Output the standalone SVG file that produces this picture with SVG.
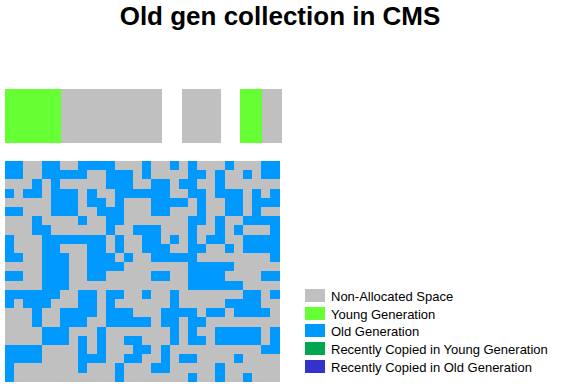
<svg xmlns="http://www.w3.org/2000/svg" width="561" height="389" viewBox="0 0 561 389">
<style>
.t{font-family:"Liberation Sans",Arial,sans-serif;font-weight:bold;font-size:26px;fill:#000}
.l{font-family:"Liberation Sans",Arial,sans-serif;font-size:13px;fill:#000}
.na{fill:#C0C0C0}
.yg{fill:#66FF33}
.og{fill:#0099FF}
.ry{fill:#00A650}
.ro{fill:#3333CC}
#grid rect{shape-rendering:crispEdges}
</style>
<rect width="561" height="389" fill="#fff"/>
<text class="t" x="280" y="25" text-anchor="middle">Old gen collection in CMS</text>
<g id="heap-bar">
<rect class="yg" x="5" y="89" width="56" height="54"/>
<rect class="na" x="61" y="89" width="101" height="54"/>
<rect class="na" x="182" y="89" width="39" height="54"/>
<rect class="yg" x="240" y="89" width="22" height="54"/>
<rect class="na" x="262" y="89" width="20" height="54"/>
</g>
<g id="grid">
<rect class="na" x="5" y="161" width="274.5" height="220.8"/>
<g class="og" transform="translate(5,161) scale(9.15,9.2)">
<rect x="0" y="0" width="2" height="1"/><rect x="4" y="0" width="2" height="1"/><rect x="8" y="0" width="4" height="1"/><rect x="15" y="0" width="1" height="1"/><rect x="18" y="0" width="1" height="1"/><rect x="20" y="0" width="1" height="1"/><rect x="24" y="0" width="1" height="1"/><rect x="28" y="0" width="2" height="1"/>
<rect x="0" y="1" width="2" height="1"/><rect x="4" y="1" width="5" height="1"/><rect x="11" y="1" width="3" height="1"/><rect x="15" y="1" width="1" height="1"/><rect x="20" y="1" width="2" height="1"/><rect x="23" y="1" width="1" height="1"/><rect x="26" y="1" width="1" height="1"/><rect x="28" y="1" width="2" height="1"/>
<rect x="3" y="2" width="1" height="1"/><rect x="5" y="2" width="1" height="1"/><rect x="11" y="2" width="3" height="1"/><rect x="16" y="2" width="2" height="1"/><rect x="19" y="2" width="2" height="1"/><rect x="23" y="2" width="1" height="1"/>
<rect x="0" y="3" width="1" height="1"/><rect x="2" y="3" width="2" height="1"/><rect x="5" y="3" width="3" height="1"/><rect x="9" y="3" width="1" height="1"/><rect x="12" y="3" width="6" height="1"/><rect x="20" y="3" width="2" height="1"/><rect x="23" y="3" width="3" height="1"/><rect x="27" y="3" width="1" height="1"/><rect x="29" y="3" width="1" height="1"/>
<rect x="5" y="4" width="3" height="1"/><rect x="9" y="4" width="2" height="1"/><rect x="12" y="4" width="1" height="1"/><rect x="16" y="4" width="4" height="1"/><rect x="21" y="4" width="1" height="1"/><rect x="24" y="4" width="2" height="1"/><rect x="27" y="4" width="3" height="1"/>
<rect x="0" y="5" width="2" height="1"/><rect x="5" y="5" width="3" height="1"/><rect x="10" y="5" width="3" height="1"/><rect x="16" y="5" width="2" height="1"/><rect x="21" y="5" width="1" height="1"/><rect x="24" y="5" width="2" height="1"/><rect x="27" y="5" width="1" height="1"/>
<rect x="3" y="6" width="1" height="1"/><rect x="8" y="6" width="1" height="1"/><rect x="11" y="6" width="2" height="1"/><rect x="20" y="6" width="2" height="1"/><rect x="23" y="6" width="1" height="1"/><rect x="26" y="6" width="4" height="1"/>
<rect x="3" y="7" width="2" height="1"/><rect x="11" y="7" width="1" height="1"/><rect x="14" y="7" width="3" height="1"/><rect x="20" y="7" width="1" height="1"/><rect x="23" y="7" width="1" height="1"/><rect x="25" y="7" width="1" height="1"/><rect x="29" y="7" width="1" height="1"/>
<rect x="0" y="8" width="1" height="1"/><rect x="4" y="8" width="7" height="1"/><rect x="12" y="8" width="1" height="1"/><rect x="15" y="8" width="2" height="1"/><rect x="18" y="8" width="1" height="1"/><rect x="20" y="8" width="1" height="1"/><rect x="22" y="8" width="2" height="1"/><rect x="26" y="8" width="4" height="1"/>
<rect x="0" y="9" width="1" height="1"/><rect x="4" y="9" width="2" height="1"/><rect x="9" y="9" width="2" height="1"/><rect x="12" y="9" width="1" height="1"/><rect x="15" y="9" width="3" height="1"/><rect x="20" y="9" width="2" height="1"/><rect x="24" y="9" width="1" height="1"/><rect x="26" y="9" width="4" height="1"/>
<rect x="0" y="10" width="2" height="1"/><rect x="4" y="10" width="3" height="1"/><rect x="9" y="10" width="3" height="1"/><rect x="13" y="10" width="1" height="1"/><rect x="16" y="10" width="5" height="1"/><rect x="29" y="10" width="1" height="1"/>
<rect x="4" y="11" width="3" height="1"/><rect x="9" y="11" width="4" height="1"/><rect x="20" y="11" width="5" height="1"/>
<rect x="0" y="12" width="2" height="1"/><rect x="4" y="12" width="3" height="1"/><rect x="9" y="12" width="2" height="1"/><rect x="16" y="12" width="2" height="1"/><rect x="20" y="12" width="4" height="1"/><rect x="28" y="12" width="2" height="1"/>
<rect x="4" y="13" width="3" height="1"/><rect x="20" y="13" width="6" height="1"/>
<rect x="0" y="14" width="6" height="1"/><rect x="8" y="14" width="2" height="1"/><rect x="11" y="14" width="2" height="1"/><rect x="15" y="14" width="1" height="1"/><rect x="18" y="14" width="1" height="1"/><rect x="26" y="14" width="2" height="1"/><rect x="29" y="14" width="1" height="1"/>
<rect x="0" y="15" width="1" height="1"/><rect x="2" y="15" width="3" height="1"/><rect x="8" y="15" width="2" height="1"/><rect x="11" y="15" width="1" height="1"/><rect x="18" y="15" width="1" height="1"/><rect x="24" y="15" width="4" height="1"/>
<rect x="3" y="16" width="1" height="1"/><rect x="6" y="16" width="4" height="1"/><rect x="11" y="16" width="3" height="1"/><rect x="17" y="16" width="4" height="1"/><rect x="22" y="16" width="2" height="1"/><rect x="25" y="16" width="4" height="1"/>
<rect x="3" y="17" width="1" height="1"/><rect x="6" y="17" width="3" height="1"/><rect x="11" y="17" width="5" height="1"/><rect x="17" y="17" width="2" height="1"/><rect x="20" y="17" width="2" height="1"/>
<rect x="4" y="18" width="3" height="1"/><rect x="10" y="18" width="1" height="1"/><rect x="18" y="18" width="1" height="1"/><rect x="20" y="18" width="1" height="1"/><rect x="23" y="18" width="5" height="1"/><rect x="29" y="18" width="1" height="1"/>
<rect x="4" y="19" width="3" height="1"/><rect x="8" y="19" width="1" height="1"/><rect x="10" y="19" width="1" height="1"/><rect x="13" y="19" width="2" height="1"/><rect x="18" y="19" width="1" height="1"/><rect x="20" y="19" width="2" height="1"/><rect x="23" y="19" width="5" height="1"/><rect x="29" y="19" width="1" height="1"/>
<rect x="0" y="20" width="4" height="1"/><rect x="8" y="20" width="1" height="1"/><rect x="10" y="20" width="1" height="1"/><rect x="14" y="20" width="2" height="1"/><rect x="17" y="20" width="1" height="1"/><rect x="28" y="20" width="2" height="1"/>
<rect x="0" y="21" width="4" height="1"/><rect x="8" y="21" width="3" height="1"/><rect x="13" y="21" width="2" height="1"/><rect x="17" y="21" width="1" height="1"/><rect x="19" y="21" width="2" height="1"/><rect x="25" y="21" width="1" height="1"/>
<rect x="0" y="22" width="1" height="1"/><rect x="8" y="22" width="1" height="1"/><rect x="12" y="22" width="1" height="1"/><rect x="16" y="22" width="2" height="1"/><rect x="23" y="22" width="1" height="1"/>
<rect x="0" y="23" width="1" height="1"/><rect x="12" y="23" width="1" height="1"/><rect x="20" y="23" width="1" height="1"/><rect x="23" y="23" width="1" height="1"/><rect x="26" y="23" width="1" height="1"/>
</g>
</g>
<g id="legend">
<g id="legend-non-allocated"><rect class="na" x="305" y="289" width="20" height="13"/><text class="l" x="331" y="301">Non-Allocated Space</text></g>
<g id="legend-young"><rect class="yg" x="305" y="307" width="20" height="13"/><text class="l" x="331" y="319">Young Generation</text></g>
<g id="legend-old"><rect class="og" x="305" y="324" width="20" height="13"/><text class="l" x="331" y="336">Old Generation</text></g>
<g id="legend-recent-young"><rect class="ry" x="305" y="342" width="20" height="13"/><text class="l" x="331" y="354">Recently Copied in Young Generation</text></g>
<g id="legend-recent-old"><rect class="ro" x="305" y="360" width="20" height="13"/><text class="l" x="331" y="372">Recently Copied in Old Generation</text></g>
</g>
</svg>
